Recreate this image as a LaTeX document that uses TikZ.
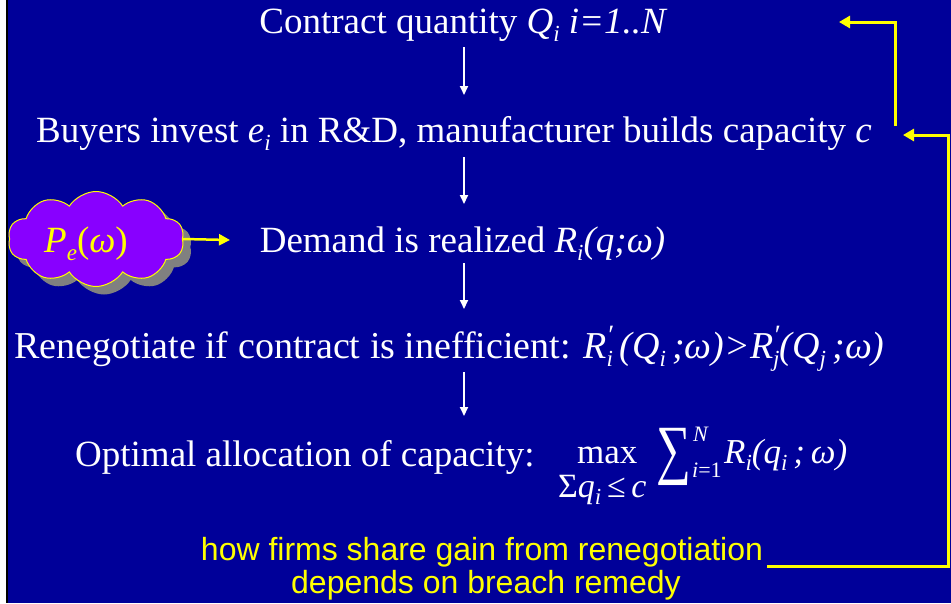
\documentclass[tikz,border=0pt]{standalone}
\usepackage{fontspec}
\setmainfont{Liberation Serif}
\newfontfamily\arialfont{Liberation Sans}
\usetikzlibrary{arrows.meta,shapes.symbols,shadows}
\definecolor{bgblue}{RGB}{0,0,153}
\definecolor{cloudviolet}{RGB}{136,0,255}
\definecolor{ylw}{RGB}{255,255,0}
\newcommand\sbs[1]{\raisebox{-0.22em}{\fontsize{23}{23}\selectfont\textit{#1}}}
\newcommand\primesub[1]{\rlap{\raisebox{0.36em}{\fontsize{28}{28}\selectfont\textit{′}}}\sbs{#1}}
\tikzset{
  wtext/.style={text=white, inner sep=0pt, font=\fontsize{37}{40}\selectfont, anchor=base},
  ytext/.style={text=ylw, inner sep=0pt, font=\arialfont\fontsize{32}{36}\selectfont, anchor=base},
  wlink/.style={draw=white, line width=2pt, -{Triangle[length=9pt,width=8pt]}},
  ylink/.style={draw=ylw, line width=3pt, -{Triangle[length=11pt,width=12pt]}},
}
\begin{document}
\begin{tikzpicture}[x=1pt,y=-1pt]
\useasboundingbox (0,0) rectangle (951,603);
\fill[bgblue] (0,0) rectangle (951,603);
\fill[white] (0,0) rectangle (6,603);
\fill[black] (6,0) rectangle (8,603);

\coordinate (ax) at (464,0);

\node[wtext] (l1) at (463.5,33) {Contract quantity \textit{Q}\sbs{i} \textit{i=1..N}};
\node[wtext] (l2) at (454,142) {Buyers invest \textit{e}\sbs{i} in R\&D, manufacturer builds capacity \textit{c}};
\node[wtext] (l3) at (462.5,252) {Demand is realized \textit{R}\sbs{i}\textit{(q;ω)}};
\node[wtext, font=\fontsize{38}{41}\selectfont] (l4) at (449.5,358) {Renegotiate if contract is inefficient: \textit{R}\primesub{i}\,\textit{(Q}\sbs{i}\textit{\,;ω)>R}\primesub{j}\textit{(Q}\sbs{j}\textit{\,;ω)}};
\node[wtext, anchor=base west] (l5) at (75,466) {Optimal allocation of capacity:};

\node[wtext, anchor=base west, font=\fontsize{35}{38}\selectfont] (mx) at (577,463) {max};
\node[wtext, anchor=base west, font=\fontsize{34}{36}\selectfont] (cons) at (558,497) {Σ\textit{q}\sbs{i}\,≤\,\textit{c}};
\node[wtext, anchor=base west, font=\fontsize{66}{68}\selectfont] (bs) at (656,471) {\scalebox{0.74}[1]{∑}};
\node[wtext, anchor=base west, font=\fontsize{22}{24}\selectfont] (up) at (693,441) {\textit{N}};
\node[wtext, anchor=base west, font=\fontsize{22}{24}\selectfont] (lo) at (692,477) {\textit{i}=1};
\node[wtext, anchor=base west, font=\fontsize{35}{38}\selectfont] (rq) at (724,463) {\textit{R}\sbs{i}\textit{(q}\sbs{i}\textit{\,;\,ω)}};

\node[ytext] (y1) at (482,560) {how firms share gain from renegotiation};
\node[ytext] (y2) at (486,593) {depends on breach remedy};

% cloud
\node[cloud, cloud puffs=10, cloud puff arc=115, aspect=1.9,
      minimum width=176pt, minimum height=95pt, inner sep=0pt,
      fill=cloudviolet, draw=ylw, line width=1pt,
      drop shadow={shadow xshift=8pt, shadow yshift=-8pt, fill=gray, opacity=1}] (cl) at (96,239) {};
\node[text=ylw, inner sep=0pt, font=\fontsize{37}{40}\selectfont, anchor=base] (pe) at (86,252) {\textit{P}\sbs{e}(\textit{ω})};
\draw[ylw, line width=2.5pt, -{Triangle[length=11pt,width=11pt]}] (cl.east) -- (230,240) coordinate (ct);

% white arrows
\draw[wlink] (ax |- 0,47) coordinate (a1s) -- (ax |- 0,95) coordinate (a1e);
\draw[wlink] (ax |- 0,157) -- (ax |- 0,204);
\draw[wlink] (ax |- 0,263) -- (ax |- 0,309);
\draw[wlink] (ax |- 0,372) -- (ax |- 0,416);

% yellow feedback links
\coordinate (u0) at (767,566);
\coordinate (rx) at (948,0);
\coordinate (t2) at (903,135);
\draw[ylink] (u0) -- (u0 -| rx) -- (rx |- t2) -- (t2);
\coordinate (s1) at (895,126);
\coordinate (t1) at (839,22);
\draw[ylink] (s1) -- (s1 |- t1) -- (t1);
\end{tikzpicture}
\end{document}
